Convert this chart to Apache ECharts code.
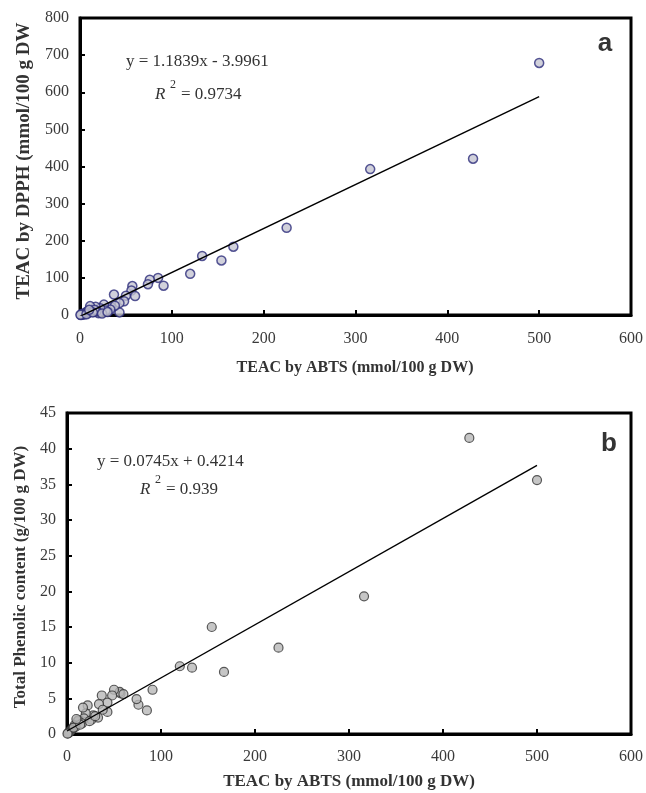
<!DOCTYPE html>
<html>
<head>
<meta charset="utf-8">
<script src="https://cdn.jsdelivr.net/npm/echarts@6/dist/echarts.min.js"></script>
<style>
html,body{margin:0;padding:0;background:#fff;}
#c{width:646px;height:793px;}
</style>
</head>
<body>
<div id="c"></div>
<script>
// TEAC by ABTS (x, shared by both panels)
var abts = [500, 428, 316, 225, 167, 154, 133, 120, 91, 85, 76, 74, 57, 56, 60, 50, 48, 37, 43, 43, 34, 38, 33, 26, 28, 22, 20, 17, 18, 11, 12, 16, 8, 9, 6, 5, 4, 3, 2, 1, 0.5, 7, 14, 24, 30, 10];
// Panel a: TEAC by DPPH
var dpph = [679, 421, 393, 235, 184, 147, 159, 111, 79, 100, 95, 83, 78, 66, 51, 52, 37, 55, 32, 7, 21, 25, 15, 28, 12, 18, 5, 22, 10, 24, 9, 14, 10, 5, 6, 2, 4, 1, 3, 0, 0.5, 2, 7, 4, 8, 14];
// Panel b: Total phenolic content
var tpc = [35.6, 41.5, 19.3, 12.1, 8.7, 15.0, 9.3, 9.5, 6.2, 3.3, 4.1, 4.9, 5.7, 5.9, 5.6, 6.2, 5.4, 5.4, 4.4, 3.1, 4.2, 3.4, 2.3, 2.0, 2.6, 4.0, 2.9, 3.7, 2.2, 1.7, 1.9, 1.5, 1.2, 1.0, 0.8, 0.6, 0.5, 0.3, 0.2, 0.1, 0.05, 0.9, 1.3, 1.8, 2.5, 2.1];
// Regression line endpoints (x, y) as drawn
var trendA = [[0, -4.0], [500, 588.0]];
var trendB = [[0, 0.42], [500, 37.67]];
// Axis ranges / ticks
var xTicks = {min: 0, max: 600, interval: 100};
var yTicksA = {min: 0, max: 800, interval: 100};
var yTicksB = {min: 0, max: 45, interval: 5};

var serif = "'Liberation Serif','Times New Roman',serif";
var sans = "'Liberation Sans',Arial,sans-serif";

function pairs(xs, ys){ return xs.map(function(x,i){ return [x, ys[i]]; }); }

function xAxisCfg(idx, margin){
  return {
    gridIndex: idx, type: 'value', min: xTicks.min, max: xTicks.max, interval: xTicks.interval,
    splitLine: {show: false},
    axisLine: {show: true, onZero: false, lineStyle: {color: '#000', width: 3}},
    axisTick: {show: true, inside: true, length: 5, lineStyle: {color: '#000', width: 2}},
    axisLabel: {fontFamily: serif, fontSize: 16, color: '#3a3a3a', margin: margin}
  };
}
function yAxisCfg(idx, t){
  return {
    gridIndex: idx, type: 'value', min: t.min, max: t.max, interval: t.interval,
    splitLine: {show: false},
    axisLine: {show: true, onZero: false, lineStyle: {color: '#000', width: 3}},
    axisTick: {show: true, inside: true, length: 5, lineStyle: {color: '#000', width: 2}},
    axisLabel: {fontFamily: serif, fontSize: 16, color: '#3a3a3a', margin: 11}
  };
}

var chart = echarts.init(document.getElementById('c'), null, {renderer: 'canvas'});
chart.setOption({
  backgroundColor: '#fff',
  animation: false,
  grid: [
    {left: 80, top: 18, width: 551, height: 297, show: true, borderColor: '#000', borderWidth: 3, backgroundColor: 'transparent'},
    {left: 67, top: 413, width: 565, height: 321, show: true, borderColor: '#000', borderWidth: 3, backgroundColor: 'transparent'}
  ],
  xAxis: [xAxisCfg(0, 16), xAxisCfg(1, 15)],
  yAxis: [yAxisCfg(0, yTicksA), yAxisCfg(1, yTicksB)],
  series: [
    {type: 'scatter', xAxisIndex: 0, yAxisIndex: 0, data: pairs(abts, dpph), symbol: 'circle', symbolSize: 9,
     itemStyle: {color: '#c6c6d2', borderColor: '#2c2c7a', borderWidth: 1.5}},
    {type: 'line', xAxisIndex: 0, yAxisIndex: 0, data: trendA, symbol: 'none', lineStyle: {color: '#000', width: 1.4}, z: 3},
    {type: 'scatter', xAxisIndex: 1, yAxisIndex: 1, data: pairs(abts, tpc), symbol: 'circle', symbolSize: 9,
     itemStyle: {color: '#b8b8b8', borderColor: '#333', borderWidth: 1.2}},
    {type: 'line', xAxisIndex: 1, yAxisIndex: 1, data: trendB, symbol: 'none', lineStyle: {color: '#000', width: 1.4}, z: 3}
  ],
  graphic: [
    // panel a
    {type: 'text', x: 24, y: 161, rotation: Math.PI / 2,
     style: {text: 'TEAC by DPPH (mmol/100 g DW', font: 'bold 19px ' + serif, fill: '#333', align: 'center', verticalAlign: 'middle'}},
    {type: 'text', x: 355, y: 368,
     style: {text: 'TEAC by ABTS (mmol/100 g DW)', font: 'bold 16px ' + serif, fill: '#333', align: 'center', verticalAlign: 'middle'}},
    {type: 'text', x: 126, y: 62,
     style: {text: 'y = 1.1839x - 3.9961', font: '17px ' + serif, fill: '#333', align: 'left', verticalAlign: 'middle'}},
    {type: 'text', x: 155, y: 95,
     style: {text: 'R', font: 'italic 17px ' + serif, fill: '#333', align: 'left', verticalAlign: 'middle'}},
    {type: 'text', x: 170, y: 85,
     style: {text: '2', font: '12px ' + serif, fill: '#333', align: 'left', verticalAlign: 'middle'}},
    {type: 'text', x: 181, y: 95,
     style: {text: '= 0.9734', font: '17px ' + serif, fill: '#333', align: 'left', verticalAlign: 'middle'}},
    {type: 'text', x: 605, y: 44,
     style: {text: 'a', font: 'bold 26px ' + sans, fill: '#333', align: 'center', verticalAlign: 'middle'}},
    // panel b
    {type: 'text', x: 21, y: 577, rotation: Math.PI / 2,
     style: {text: 'Total Phenolic content (g/100 g DW)', font: 'bold 17px ' + serif, fill: '#333', align: 'center', verticalAlign: 'middle'}},
    {type: 'text', x: 349, y: 782,
     style: {text: 'TEAC by ABTS (mmol/100 g DW)', font: 'bold 17px ' + serif, fill: '#333', align: 'center', verticalAlign: 'middle'}},
    {type: 'text', x: 97, y: 462,
     style: {text: 'y = 0.0745x + 0.4214', font: '17px ' + serif, fill: '#333', align: 'left', verticalAlign: 'middle'}},
    {type: 'text', x: 140, y: 490,
     style: {text: 'R', font: 'italic 17px ' + serif, fill: '#333', align: 'left', verticalAlign: 'middle'}},
    {type: 'text', x: 155, y: 480,
     style: {text: '2', font: '12px ' + serif, fill: '#333', align: 'left', verticalAlign: 'middle'}},
    {type: 'text', x: 166, y: 490,
     style: {text: '= 0.939', font: '17px ' + serif, fill: '#333', align: 'left', verticalAlign: 'middle'}},
    {type: 'text', x: 609, y: 444,
     style: {text: 'b', font: 'bold 26px ' + sans, fill: '#333', align: 'center', verticalAlign: 'middle'}}
  ]
});
</script>
</body>
</html>
